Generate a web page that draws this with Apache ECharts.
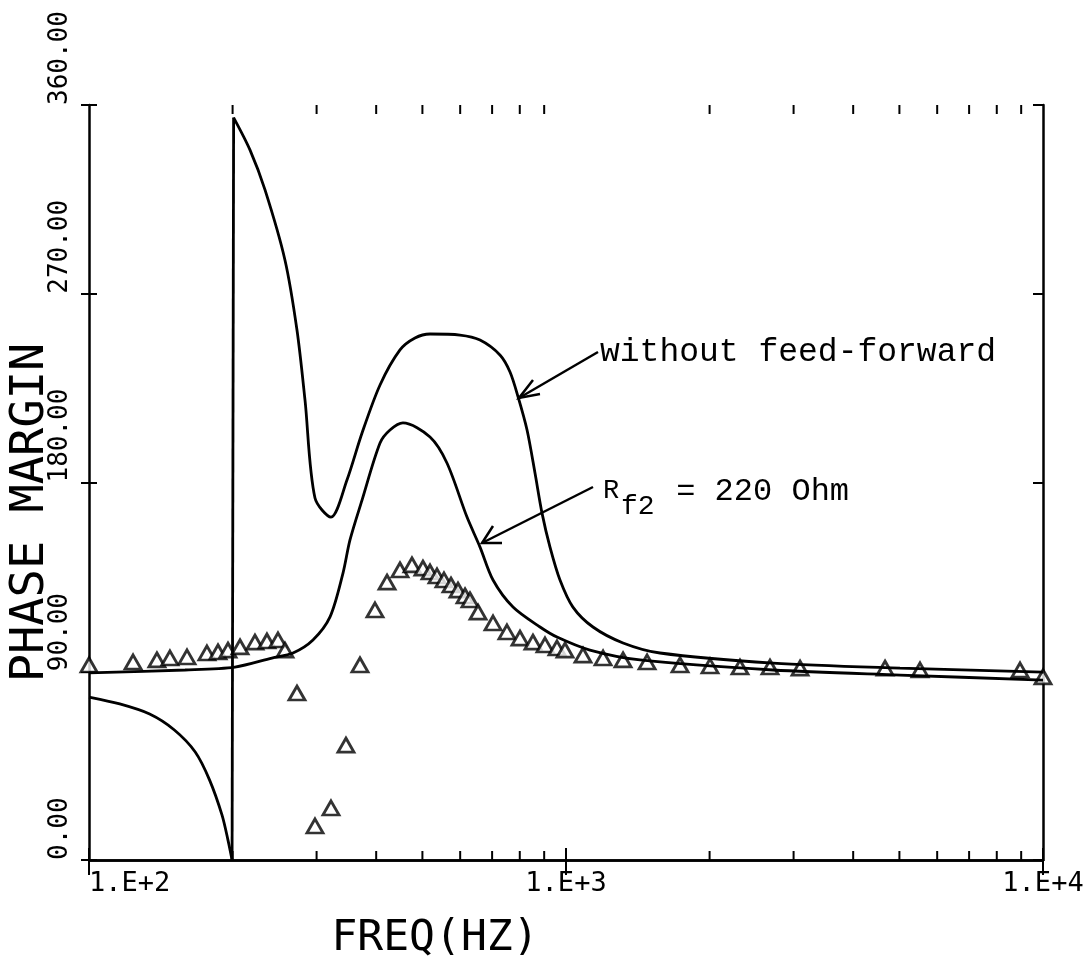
<!DOCTYPE html>
<html>
<head>
<meta charset="utf-8">
<script src="https://cdn.jsdelivr.net/npm/echarts@6/dist/echarts.min.js"></script>
<style>
  html, body { margin: 0; padding: 0; background: #fff; }
  #chart { width: 1092px; height: 967px; }
</style>
</head>
<body>
<div id="chart"></div>
<script>
// curve "without feed-forward", lower branch (below 90 deg, down to the 0 crossing)
var noFfLowFreq  = [100, 116, 134, 151, 167, 179, 190, 195.6, 199.5];
var noFfLowPhase = [77.7, 74.4, 69.6, 62.0, 51.5, 38.1, 21.5, 9.5, 0];
// curve "without feed-forward", upper branch (after the jump to 360)
var noFfHighFreq  = [201, 217.6, 233.9, 257.5, 272.9, 283.7, 297.7, 321.6, 347.4, 373.6, 407.5, 448.7, 482.4, 518.7, 599.5, 660.3, 727, 763.2, 793.5, 828.6, 861, 890.7, 925.7, 971.4, 1034, 1139, 1317, 1574, 2716, 5015, 10000];
var noFfHighPhase = [354, 338.5, 319.5, 286.1, 252.7, 219.3, 172.6, 163.5, 181.2, 203.6, 226.5, 243.2, 248.9, 250.8, 250.3, 247.9, 240.8, 232.7, 220.8, 205.0, 184.5, 165.4, 149.2, 133.5, 120.6, 111.1, 103.5, 98.7, 93.9, 91.5, 89.6];

// curve "R_f2 = 220 Ohm"
var rf2Freq  = [100, 159, 202.3, 241.8, 267.7, 294.8, 320.1, 340.8, 352.5, 373.6, 407.5, 427.6, 455.2, 518.7, 562.9, 620.1, 660.3, 703.1, 774.3, 882.1, 957.4, 1122.5, 1429.5, 2716, 5015, 10000];
var rf2Phase = [89.2, 90.6, 92.0, 96.3, 98.7, 104.9, 115.9, 136.8, 152.6, 171.6, 198.8, 205.0, 208.4, 201.7, 189.3, 163.5, 149.2, 133.5, 120.6, 111.1, 106.3, 100.1, 95.4, 90.6, 88.2, 85.8];

// triangle markers
var triFreq  = [100, 123.7, 138.8, 147.8, 160.5, 176.7, 186.4, 195.6, 207.3, 222.8, 236.1, 249, 257.5, 272.9, 297.7, 321.6, 345.7, 369.9, 397.7, 421.5, 448.7, 475.4, 501.3, 518.7, 536.5, 554.9, 574.0, 593.7, 614.2, 629.1, 654.0, 703.1, 752.0, 800.8, 852.6, 903.6, 957.4, 995.2, 1085.5, 1196, 1317, 1479, 1734, 2004, 2316, 2677, 3095, 4665, 5523, 8951, 10000];
var triPhase = [93.0, 94.4, 95.4, 96.3, 96.8, 98.7, 99.2, 100.1, 101.6, 103.9, 104.4, 104.9, 100.1, 79.6, 16.2, 24.8, 54.8, 93.0, 119.2, 132.5, 138.3, 140.7, 139.2, 137.3, 135.4, 133.5, 131.1, 128.7, 125.9, 124.0, 118.2, 113.0, 108.7, 105.8, 103.9, 102.5, 101.1, 100.1, 97.7, 96.3, 95.4, 94.4, 93.0, 92.5, 92.0, 92.0, 91.5, 91.5, 90.6, 90.6, 87.3];

var xTickLabels = { 100: '1.E+2', 1000: '1.E+3', 10000: '1.E+4' };
var minorFreqs = [200, 300, 400, 500, 600, 700, 800, 900, 2000, 3000, 4000, 5000, 6000, 7000, 8000, 9000];

function pairs(xs, ys) {
  var out = [];
  for (var i = 0; i < xs.length; i++) out.push([xs[i], ys[i]]);
  return out;
}

var plotFont = 'DejaVu Sans Mono';
var noteFont = 'Liberation Mono';

var myChart = echarts.init(document.getElementById('chart'));

var xBase = { type: 'log', logBase: 10, min: 100, max: 10000, splitLine: { show: false } };
var yBase = { type: 'value', min: 0, max: 360, interval: 90, splitLine: { show: false } };
var curveStyle = { color: '#000', width: 2.8 };

var option = {
  backgroundColor: '#fff',
  animation: false,
  grid: { left: 89, right: 49, top: 105, bottom: 107, outerBoundsMode: 'none' },
  xAxis: [
    Object.assign({}, xBase, {
      position: 'bottom',
      axisLine: { show: true, lineStyle: { color: '#000', width: 2.5 } },
      axisTick: { show: true, inside: true, length: 12, lineStyle: { color: '#000', width: 2 } },
      axisLabel: {
        color: '#000', fontFamily: plotFont, fontSize: 27, margin: 10,
        alignMinLabel: 'left',
        formatter: function (v) { return xTickLabels[Math.round(v)] || ''; }
      },
      name: 'FREQ(HZ)', nameLocation: 'middle', nameGap: 57, nameMoveOverlap: false,
      nameTextStyle: { color: '#000', fontFamily: plotFont, fontSize: 43, padding: [0, 262, 0, 0] }
    }),
    Object.assign({}, xBase, {
      position: 'bottom',
      axisLine: { show: false },
      axisTick: { show: true, inside: false, length: 12, lineStyle: { color: '#000', width: 2 } },
      axisLabel: { show: false }
    }),
    Object.assign({}, xBase, {
      position: 'top',
      axisLine: { show: true, lineStyle: { color: '#000', width: 2.5 } },
      axisTick: { show: true, inside: true, length: 15, lineStyle: { color: '#000', width: 2 } },
      axisLabel: { show: false }
    })
  ],
  yAxis: [
    Object.assign({}, yBase, {
      position: 'left',
      axisLine: { show: true, lineStyle: { color: '#000', width: 2.5 } },
      axisTick: { show: true, inside: true, length: 8, lineStyle: { color: '#000', width: 2 } },
      axisLabel: {
        color: '#000', fontFamily: plotFont, fontSize: 26, rotate: 90,
        align: 'left', verticalAlign: 'middle', margin: 29,
        formatter: function (v) { return v.toFixed(2); }
      },
      name: 'PHASE MARGIN', nameLocation: 'middle', nameRotate: 90, nameGap: 35, nameMoveOverlap: false,
      nameTextStyle: { color: '#000', fontFamily: plotFont, fontSize: 47, padding: [0, 60, 0, 0] }
    }),
    Object.assign({}, yBase, {
      position: 'left',
      axisLine: { show: false },
      axisTick: { show: true, inside: false, length: 8, lineStyle: { color: '#000', width: 2 } },
      axisLabel: { show: false }
    }),
    Object.assign({}, yBase, {
      position: 'right',
      axisLine: { show: true, lineStyle: { color: '#000', width: 2.5 } },
      axisTick: { show: true, inside: true, length: 10, lineStyle: { color: '#000', width: 2 } },
      axisLabel: { show: false }
    })
  ],
  series: [
    {
      name: 'without feed-forward', type: 'line', xAxisIndex: 0, yAxisIndex: 0,
      showSymbol: false, smooth: 0.3, lineStyle: curveStyle,
      data: pairs(noFfLowFreq, noFfLowPhase)
    },
    {
      // the jump from 0 to 360 deg
      name: 'without feed-forward', type: 'line', xAxisIndex: 0, yAxisIndex: 0,
      showSymbol: false, lineStyle: curveStyle,
      data: [[noFfLowFreq[noFfLowFreq.length - 1], noFfLowPhase[noFfLowPhase.length - 1]], [noFfHighFreq[0], noFfHighPhase[0]]]
    },
    {
      name: 'without feed-forward', type: 'line', xAxisIndex: 0, yAxisIndex: 0,
      showSymbol: false, smooth: 0.3, lineStyle: curveStyle,
      data: pairs(noFfHighFreq, noFfHighPhase)
    },
    {
      name: 'Rf2 = 220 Ohm', type: 'line', xAxisIndex: 0, yAxisIndex: 0,
      showSymbol: false, smooth: 0.3, lineStyle: curveStyle,
      data: pairs(rf2Freq, rf2Phase)
    },
    {
      name: 'measured', type: 'scatter', xAxisIndex: 0, yAxisIndex: 0,
      symbol: 'triangle', symbolSize: [16, 14], clip: false,
      itemStyle: { color: '#fff', borderColor: '#000', borderWidth: 2.8 },
      data: pairs(triFreq, triPhase)
    },
    {
      // log minor ticks on top and bottom frame
      name: 'minor', type: 'custom', xAxisIndex: 0, yAxisIndex: 0, silent: true, clip: false,
      data: minorFreqs.map(function (f) { return [f, 0]; }),
      renderItem: function (params, api) {
        var b = api.coord([api.value(0), 0]);
        var t = api.coord([api.value(0), 360]);
        return {
          type: 'group',
          children: [
            { type: 'line', shape: { x1: b[0], y1: b[1], x2: b[0], y2: b[1] - 9 }, style: { stroke: '#000', lineWidth: 2 } },
            { type: 'line', shape: { x1: t[0], y1: t[1], x2: t[0], y2: t[1] + 9 }, style: { stroke: '#000', lineWidth: 2 } }
          ]
        };
      }
    }
  ],
  graphic: [
    { type: 'text', x: 600, y: 336, style: { text: 'without feed-forward', fill: '#000', font: '33px "' + noteFont + '"' } },
    { type: 'polyline', shape: { points: [[598, 352], [519, 398]] }, style: { stroke: '#000', lineWidth: 2.5, fill: null } },
    { type: 'polyline', shape: { points: [[533, 380], [519, 398], [540, 394]] }, style: { stroke: '#000', lineWidth: 2.5, fill: null } },
    { type: 'text', x: 603, y: 477, style: { text: 'R', fill: '#000', font: '27px "' + noteFont + '"' } },
    { type: 'text', x: 621, y: 493, style: { text: 'f2', fill: '#000', font: '28px "' + noteFont + '"' } },
    { type: 'text', x: 657, y: 476, style: { text: ' = 220 Ohm', fill: '#000', font: '32px "' + noteFont + '"' } },
    { type: 'polyline', shape: { points: [[593, 487], [482, 543]] }, style: { stroke: '#000', lineWidth: 2.5, fill: null } },
    { type: 'polyline', shape: { points: [[493, 526], [482, 543], [502, 543]] }, style: { stroke: '#000', lineWidth: 2.5, fill: null } }
  ]
};

myChart.setOption(option);
</script>
</body>
</html>
